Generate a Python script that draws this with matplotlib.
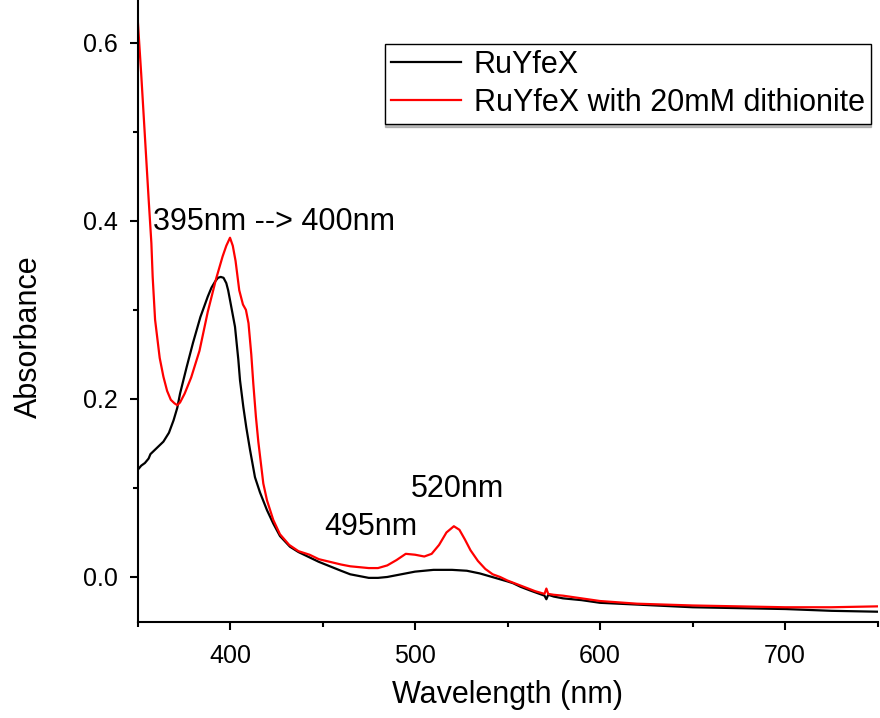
"""UV-vis absorbance spectra of RuYfeX with and without dithionite."""

import matplotlib
matplotlib.use("Agg")
import matplotlib.pyplot as plt
from matplotlib.ticker import MultipleLocator

plt.rcParams["font.family"] = ["Liberation Sans", "DejaVu Sans"]

# RuYfeX (black)
wl_ruyfex = [350, 352, 354, 356, 357, 358.5, 361, 364, 367, 369.5, 371.5, 373,
             376.6, 380, 384, 388, 390, 392, 393.5, 395, 396.5, 398, 399, 400,
             402.7, 404.5, 405.4, 407.2, 408.8, 410.8, 413.5, 416.2, 420,
             423.4, 427, 432.4, 437, 443, 448, 454, 460, 465, 470, 475, 480,
             485, 490, 495, 500, 510, 520, 528, 535, 540, 545, 550, 553, 557,
             562, 566, 570, 571, 572, 575, 580, 590, 600, 620, 650, 675, 700,
             725, 750]
abs_ruyfex = [0.120, 0.125, 0.128, 0.133, 0.138, 0.141, 0.146, 0.152, 0.162,
              0.176, 0.190, 0.206, 0.236, 0.263, 0.292, 0.315, 0.325, 0.332,
              0.336, 0.337, 0.336, 0.330, 0.322, 0.311, 0.281, 0.244, 0.221,
              0.191, 0.168, 0.143, 0.112, 0.095, 0.075, 0.060, 0.046, 0.034,
              0.028, 0.022, 0.017, 0.012, 0.007, 0.003, 0.001, -0.001,
              -0.001, 0.000, 0.002, 0.004, 0.006, 0.008, 0.008, 0.007, 0.004,
              0.001, -0.002, -0.005, -0.007, -0.011, -0.015, -0.018, -0.021,
              -0.025, -0.020, -0.022, -0.024, -0.026, -0.029, -0.031, -0.034,
              -0.035, -0.036, -0.038, -0.039]

# RuYfeX with 20mM dithionite (red)
wl_dithionite = [350, 352, 354, 356, 357.5, 358.2, 359.5, 362, 364, 366, 368,
                 370, 371.5, 373, 375.5, 379, 383.5, 388, 392.5, 396, 398, 400,
                 401.5, 403, 405, 407, 408.6, 410, 411.5, 412.6, 414, 415.3,
                 418, 420, 423.4, 427, 432, 437, 443, 448, 454, 460, 465, 470,
                 475, 480, 485, 490, 495, 500, 505, 509, 513, 517, 521, 524,
                 527, 530, 534, 538, 542, 546, 550, 555, 560, 565, 570, 571,
                 572, 575, 580, 590, 600, 620, 650, 675, 700, 725, 750]
abs_dithionite = [0.630, 0.565, 0.495, 0.425, 0.375, 0.337, 0.289, 0.246,
                  0.225, 0.209, 0.199, 0.195, 0.193, 0.196, 0.206, 0.224,
                  0.254, 0.298, 0.335, 0.360, 0.372, 0.381, 0.372, 0.355,
                  0.322, 0.306, 0.300, 0.285, 0.250, 0.217, 0.180, 0.152,
                  0.105, 0.086, 0.064, 0.048, 0.036, 0.029, 0.025, 0.020,
                  0.017, 0.014, 0.012, 0.011, 0.010, 0.010, 0.013, 0.019,
                  0.026, 0.025, 0.023, 0.026, 0.036, 0.050, 0.057, 0.053,
                  0.042, 0.030, 0.018, 0.009, 0.003, 0.000, -0.004, -0.008,
                  -0.012, -0.016, -0.019, -0.013, -0.019, -0.020, -0.021,
                  -0.024, -0.027, -0.030, -0.032, -0.033, -0.034, -0.034,
                  -0.033]

labels = ["RuYfeX", "RuYfeX with 20mM dithionite"]
peak_notes = [("395nm --> 400nm", 358.2, 0.390),
              ("495nm", 450.8, 0.047),
              ("520nm", 497.6, 0.090)]

fig = plt.figure(figsize=(8.8, 7.18), dpi=100)
ax = fig.add_axes([0.15625, 0.1344, 0.84095, 0.8656])

ax.plot(wl_ruyfex, abs_ruyfex, color="black", lw=1.6, label=labels[0])
ax.plot(wl_dithionite, abs_dithionite, color="red", lw=1.6, label=labels[1])

for text, x, y in peak_notes:
    ax.text(x, y, text, fontsize=22, ha="left", va="baseline")

ax.set_xlim(350, 750)
ax.set_ylim(-0.05, 0.648)

ax.xaxis.set_major_locator(MultipleLocator(100))
ax.xaxis.set_minor_locator(MultipleLocator(50))
ax.yaxis.set_minor_locator(MultipleLocator(0.1))

ax.spines["top"].set_visible(False)
ax.spines["right"].set_visible(False)
for side in ("left", "bottom"):
    ax.spines[side].set_linewidth(1.5)

ax.tick_params(which="major", direction="out", length=6, width=1.5,
               labelsize=18)
ax.tick_params(axis="x", which="major", pad=10)
ax.tick_params(axis="y", which="major", pad=8)
ax.tick_params(which="minor", direction="out", length=3.5, width=1.5)
ax.set_yticks([0.0, 0.2, 0.4, 0.6])
ax.set_yticklabels(["0.0", "0.2", "0.4", "0.6"])

ax.set_xlabel("Wavelength (nm)", fontsize=22)
ax.xaxis.set_label_coords(0.5, -0.094)
ax.set_ylabel("Absorbance", fontsize=22)
ax.yaxis.set_label_coords(-0.127, 0.459)

leg = ax.legend(loc="upper left", bbox_to_anchor=(385 / 880, 1 - 44 / 718),
                bbox_transform=fig.transFigure, fontsize=22, frameon=True,
                fancybox=False, edgecolor="black", borderaxespad=0,
                handlelength=2.3, handletextpad=0.4, labelspacing=0.25,
                borderpad=0.2, shadow={"ox": 0, "oy": -2, "shade": 0.5})
leg.get_frame().set_linewidth(1.0)

fig.savefig("out.png", dpi=100)
